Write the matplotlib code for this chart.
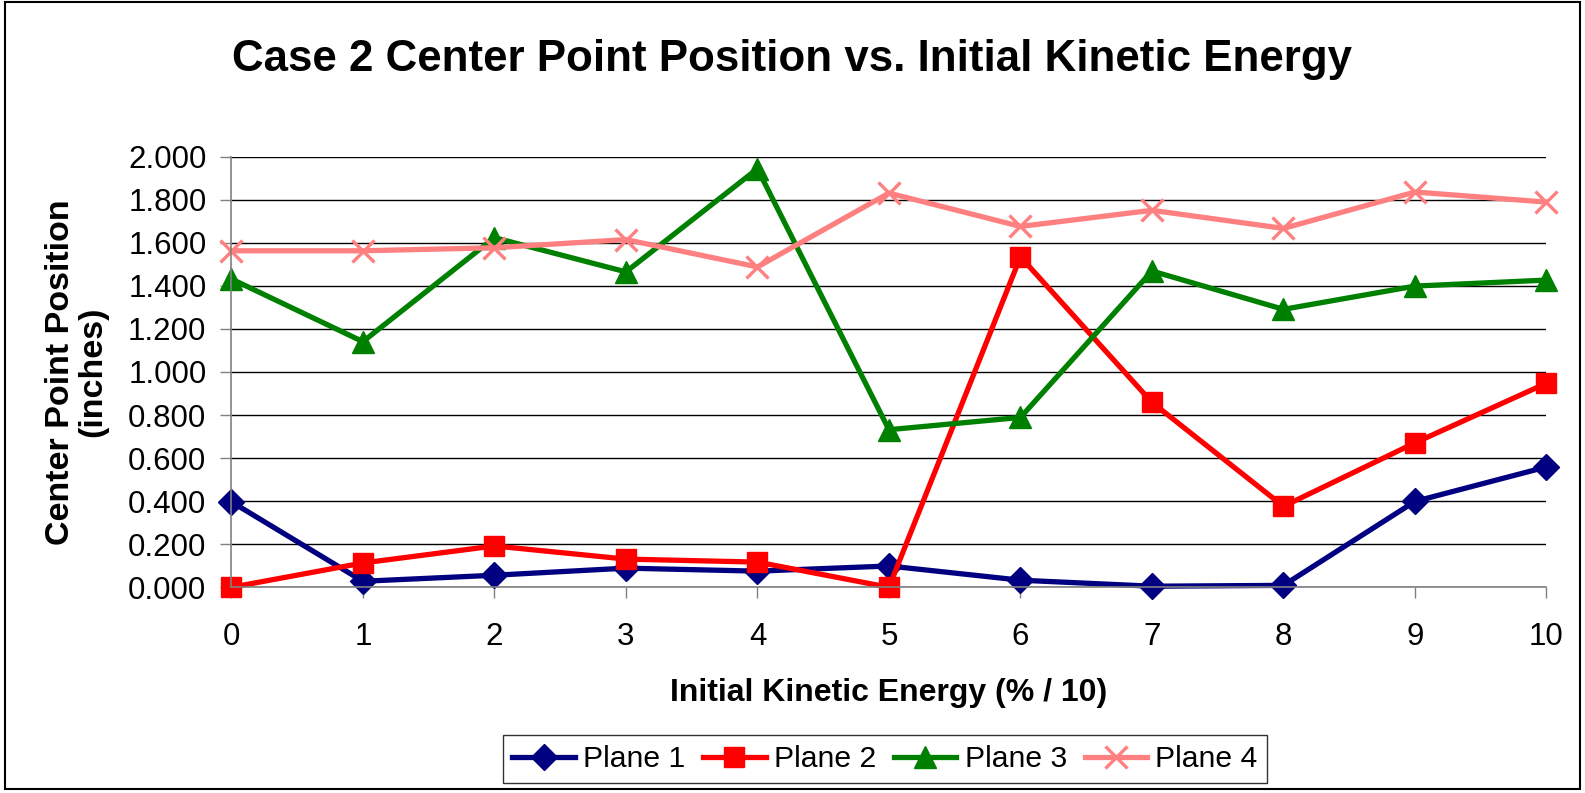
import numpy as np
import matplotlib
matplotlib.use("Agg")
import matplotlib.pyplot as plt
from matplotlib.patches import Rectangle

plt.rcParams['font.family'] = ['Liberation Sans', 'DejaVu Sans']

energy = np.arange(0, 11)
plane1 = [0.397, 0.028, 0.056, 0.089, 0.075, 0.099, 0.033, 0.005, 0.009, 0.399, 0.559]
plane2 = [0.000, 0.113, 0.192, 0.131, 0.117, 0.000, 1.535, 0.859, 0.376, 0.671, 0.948]
plane3 = [1.432, 1.141, 1.624, 1.465, 1.944, 0.732, 0.789, 1.469, 1.291, 1.399, 1.427]
plane4 = [1.563, 1.563, 1.577, 1.615, 1.488, 1.831, 1.676, 1.751, 1.667, 1.836, 1.789]
names = ["Plane 1", "Plane 2", "Plane 3", "Plane 4"]

fig = plt.figure(figsize=(15.85, 7.93), dpi=100)
ax = fig.add_axes([0.146, 0.2594, 0.8297, 0.543])

# border round the whole chart
fig.patches.append(Rectangle((0.003, 0.005), 0.994, 0.992, transform=fig.transFigure,
                             fill=False, edgecolor='black', linewidth=1.5))

ax.plot(energy, plane1, color='#000080', lw=3.8, marker='D', ms=13, label=names[0])
ax.plot(energy, plane2, color='#FF0000', lw=3.8, marker='s', ms=15, label=names[1])
ax.plot(energy, plane3, color='#008000', lw=3.8, marker='^', ms=16, label=names[2])
ax.plot(energy, plane4, color='#FF8080', lw=3.8, marker='x', ms=16, mew=2.4, label=names[3])

ax.set_xlim(0, 10)
ax.set_ylim(0, 2.0)
ax.set_xticks(range(0, 11))
ax.set_yticks(np.arange(0, 2.001, 0.2))
ax.set_yticklabels([f"{v:.3f}" for v in np.arange(0, 2.001, 0.2)])
ax.yaxis.grid(True, color='black', lw=1)
ax.set_axisbelow(True)
for s in ['top', 'right']:
    ax.spines[s].set_visible(False)
for s in ['left', 'bottom']:
    ax.spines[s].set_color('#808080')
    ax.spines[s].set_linewidth(1.2)
ax.tick_params(axis='both', labelsize=22.5, length=8, width=1, color='#808080')
ax.tick_params(axis='x', pad=17)
ax.tick_params(axis='y', pad=10)
for ln in ax.lines:
    ln.set_clip_on(False)

ax.set_xlabel("Initial Kinetic Energy (% / 10)", fontsize=23, fontweight='bold', labelpad=19)
ax.set_ylabel("Center Point Position\n(inches)", fontsize=24.5, fontweight='bold', labelpad=14,
              linespacing=1.05)
fig.suptitle("Case 2 Center Point Position vs. Initial Kinetic Energy", fontsize=31.6,
             fontweight='bold', x=0.5, y=0.951)

leg = ax.legend(loc='center', bbox_to_anchor=(0.497, -0.399), ncol=4, fontsize=21.7,
                frameon=True, fancybox=False, handlelength=2.07, handletextpad=0.27,
                columnspacing=0.6, borderpad=0.32, borderaxespad=0)
leg.get_frame().set_edgecolor('black')
leg.get_frame().set_linewidth(1)

fig.savefig("out.png", dpi=100)
